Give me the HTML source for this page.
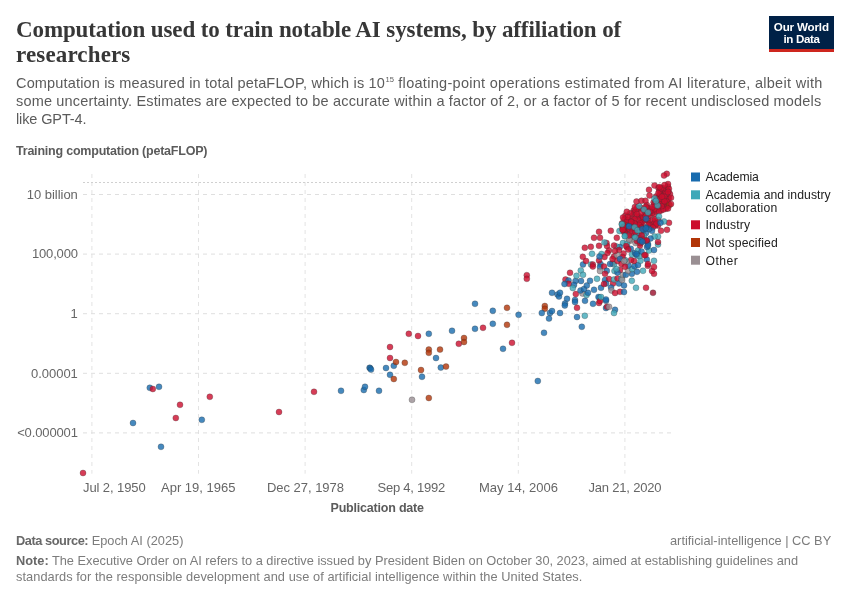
<!DOCTYPE html>
<html><head><meta charset="utf-8"><title>Computation used to train notable AI systems</title>
<style>
html,body{margin:0;padding:0;background:#fff;}
body{width:850px;height:600px;position:relative;overflow:hidden;font-family:"Liberation Sans",sans-serif;}
.t{position:absolute;white-space:nowrap;line-height:1;}
.ti{left:16px;font-family:"Liberation Serif",serif;font-weight:bold;font-size:23px;color:#373737;}
.sub{left:16px;font-size:14.5px;color:#5b5b5b;}
.ax{font-size:13px;color:#666;}
.yl{right:772.2px;text-align:right;}
.lg{left:705.5px;font-size:12.2px;color:#222;}
.ft{font-size:12.8px;color:#7c7c7c;}
.ft b{color:#686868}
#f1 b{letter-spacing:-0.45px}
.bl{font-size:12.5px;font-weight:bold;color:#5b5b5b}
#logo{position:absolute;left:769px;top:16px;width:65px;height:33px;background:#002147;border-bottom:3px solid #ce261e;}
.lo{color:#fff;font-weight:bold;font-size:11.6px;}
/*LS*/#ti1{letter-spacing:-0.111px}#ti2{letter-spacing:0.147px}#s1{letter-spacing:0.166px}#s1b{letter-spacing:0.294px}#s2{letter-spacing:0.166px}#s3{letter-spacing:-0.122px}#yt{letter-spacing:-0.214px}#y1{letter-spacing:-0.036px}#y2{letter-spacing:-0.167px}#y4{letter-spacing:-0.033px}#y5{letter-spacing:-0.129px}#x1{letter-spacing:-0.091px}#x2{letter-spacing:-0.005px}#x3{letter-spacing:-0.031px}#x4{letter-spacing:-0.243px}#x5{letter-spacing:0.020px}#x6{letter-spacing:-0.199px}#xt{letter-spacing:-0.203px}#l1{letter-spacing:-0.129px}#l2{letter-spacing:0.061px}#l3{letter-spacing:0.216px}#l4{letter-spacing:0.192px}#l5{letter-spacing:0.154px}#l6{letter-spacing:0.454px}#f1{letter-spacing:0.002px}#f2{letter-spacing:-0.001px}#f3{letter-spacing:-0.012px}#f4{letter-spacing:0.050px}#lo1{letter-spacing:-0.159px}#lo2{letter-spacing:-0.359px}/*END*/
</style></head><body>
<svg width="850" height="600" viewBox="0 0 850 600" style="position:absolute;left:0;top:0">
<g stroke="#dfdfdf" stroke-width="1" stroke-dasharray="4,4" fill="none">
<line x1="91.9" y1="174" x2="91.9" y2="473.7" stroke="#e3e3e3"/>
<line x1="198.5" y1="174" x2="198.5" y2="473.7" stroke="#e3e3e3"/>
<line x1="305.1" y1="174" x2="305.1" y2="473.7" stroke="#e3e3e3"/>
<line x1="411.7" y1="174" x2="411.7" y2="473.7" stroke="#e3e3e3"/>
<line x1="518.3" y1="174" x2="518.3" y2="473.7" stroke="#e3e3e3"/>
<line x1="624.9" y1="174" x2="624.9" y2="473.7" stroke="#e3e3e3"/>
<line x1="83" y1="194.5" x2="671" y2="194.5"/>
<line x1="83" y1="254.1" x2="671" y2="254.1"/>
<line x1="83" y1="313.7" x2="671" y2="313.7"/>
<line x1="83" y1="373.3" x2="671" y2="373.3"/>
<line x1="83" y1="432.9" x2="671" y2="432.9"/>
</g>
<line x1="83" y1="182.5" x2="671" y2="182.5" stroke="#d0d0d0" stroke-width="1" stroke-dasharray="2,2"/>
<g opacity="1" fill-opacity="0.8" stroke="#333" stroke-width="0.5" stroke-opacity="0.55">
<circle cx="83" cy="473" r="3" fill="#cc0d2d"/>
<circle cx="133" cy="423" r="3" fill="#186bae"/>
<circle cx="149.8" cy="387.8" r="3" fill="#186bae"/>
<circle cx="152.8" cy="389" r="3" fill="#cc0d2d"/>
<circle cx="159" cy="386.8" r="3" fill="#186bae"/>
<circle cx="161" cy="446.8" r="3" fill="#186bae"/>
<circle cx="175.8" cy="418" r="3" fill="#cc0d2d"/>
<circle cx="180" cy="404.8" r="3" fill="#cc0d2d"/>
<circle cx="201.8" cy="419.8" r="3" fill="#186bae"/>
<circle cx="209.8" cy="396.8" r="3" fill="#cc0d2d"/>
<circle cx="279" cy="412" r="3" fill="#cc0d2d"/>
<circle cx="314" cy="391.8" r="3" fill="#cc0d2d"/>
<circle cx="341" cy="390.8" r="3" fill="#186bae"/>
<circle cx="363.8" cy="390" r="3" fill="#186bae"/>
<circle cx="365" cy="386.8" r="3" fill="#186bae"/>
<circle cx="379" cy="390.8" r="3" fill="#186bae"/>
<circle cx="369.6" cy="367.8" r="3" fill="#186bae"/>
<circle cx="370.2" cy="368.2" r="3" fill="#186bae"/>
<circle cx="371" cy="369.6" r="3" fill="#186bae"/>
<circle cx="386" cy="368" r="3" fill="#186bae"/>
<circle cx="393.8" cy="365.8" r="3" fill="#186bae"/>
<circle cx="390" cy="374.8" r="3" fill="#186bae"/>
<circle cx="393.8" cy="379" r="3" fill="#b13507"/>
<circle cx="396" cy="362" r="3" fill="#b13507"/>
<circle cx="404.8" cy="362.8" r="3" fill="#b13507"/>
<circle cx="390" cy="358" r="3" fill="#cc0d2d"/>
<circle cx="390" cy="347" r="3" fill="#cc0d2d"/>
<circle cx="408.8" cy="333.8" r="3" fill="#cc0d2d"/>
<circle cx="418" cy="336" r="3" fill="#cc0d2d"/>
<circle cx="428.8" cy="333.8" r="3" fill="#186bae"/>
<circle cx="428.8" cy="349.6" r="3" fill="#b13507"/>
<circle cx="428.8" cy="352.8" r="3" fill="#b13507"/>
<circle cx="440" cy="349.6" r="3" fill="#b13507"/>
<circle cx="436" cy="358" r="3" fill="#186bae"/>
<circle cx="421" cy="370" r="3" fill="#b13507"/>
<circle cx="422" cy="376.8" r="3" fill="#186bae"/>
<circle cx="440.8" cy="367.6" r="3" fill="#186bae"/>
<circle cx="446" cy="366.6" r="3" fill="#b13507"/>
<circle cx="412" cy="399.8" r="3" fill="#9a8f93"/>
<circle cx="428.8" cy="398" r="3" fill="#b13507"/>
<circle cx="452" cy="330.8" r="3" fill="#186bae"/>
<circle cx="458.8" cy="343.8" r="3" fill="#cc0d2d"/>
<circle cx="464" cy="338" r="3" fill="#b13507"/>
<circle cx="464" cy="342" r="3" fill="#b13507"/>
<circle cx="475" cy="328.8" r="3" fill="#186bae"/>
<circle cx="483" cy="327.8" r="3" fill="#cc0d2d"/>
<circle cx="475" cy="303.8" r="3" fill="#186bae"/>
<circle cx="492.8" cy="310.8" r="3" fill="#186bae"/>
<circle cx="492.8" cy="323.8" r="3" fill="#186bae"/>
<circle cx="507" cy="307.8" r="3" fill="#b13507"/>
<circle cx="507" cy="324.8" r="3" fill="#b13507"/>
<circle cx="503" cy="348.8" r="3" fill="#186bae"/>
<circle cx="512" cy="342.8" r="3" fill="#cc0d2d"/>
<circle cx="518.6" cy="314.8" r="3" fill="#186bae"/>
<circle cx="526.8" cy="275.2" r="3" fill="#cc0d2d"/>
<circle cx="526.8" cy="278.8" r="3" fill="#cc0d2d"/>
<circle cx="544" cy="332.8" r="3" fill="#186bae"/>
<circle cx="537.8" cy="381" r="3" fill="#186bae"/>
<circle cx="639" cy="217.5" r="3" fill="#9a8f93"/>
<circle cx="643" cy="219.5" r="3" fill="#9a8f93"/>
<circle cx="648" cy="218.5" r="3" fill="#9a8f93"/>
<circle cx="629.5" cy="240" r="3" fill="#9a8f93"/>
<circle cx="630" cy="235" r="3" fill="#cc0d2d"/>
<circle cx="654.2" cy="214.2" r="3" fill="#cc0d2d"/>
<circle cx="647.8" cy="220.6" r="3" fill="#cc0d2d"/>
<circle cx="644.7" cy="220.3" r="3" fill="#cc0d2d"/>
<circle cx="640.8" cy="207.8" r="3" fill="#cc0d2d"/>
<circle cx="640.5" cy="224.9" r="3" fill="#cc0d2d"/>
<circle cx="658.7" cy="202.4" r="3" fill="#cc0d2d"/>
<circle cx="627.0" cy="225.3" r="3" fill="#cc0d2d"/>
<circle cx="655.2" cy="206.1" r="3" fill="#cc0d2d"/>
<circle cx="658.4" cy="187.8" r="3" fill="#cc0d2d"/>
<circle cx="637.8" cy="224.9" r="3" fill="#cc0d2d"/>
<circle cx="661.1" cy="210.4" r="3" fill="#cc0d2d"/>
<circle cx="657.3" cy="208.8" r="3" fill="#cc0d2d"/>
<circle cx="661.7" cy="191.4" r="3" fill="#cc0d2d"/>
<circle cx="656.9" cy="198.4" r="3" fill="#cc0d2d"/>
<circle cx="656.1" cy="211.5" r="3" fill="#cc0d2d"/>
<circle cx="666.3" cy="199.7" r="3" fill="#cc0d2d"/>
<circle cx="633.7" cy="210.5" r="3" fill="#cc0d2d"/>
<circle cx="648.1" cy="214.1" r="3" fill="#cc0d2d"/>
<circle cx="663.8" cy="203.5" r="3" fill="#cc0d2d"/>
<circle cx="662.8" cy="201.0" r="3" fill="#cc0d2d"/>
<circle cx="653.6" cy="202.3" r="3" fill="#cc0d2d"/>
<circle cx="649.4" cy="215.6" r="3" fill="#cc0d2d"/>
<circle cx="646.6" cy="211.1" r="3" fill="#cc0d2d"/>
<circle cx="638.6" cy="208.9" r="3" fill="#cc0d2d"/>
<circle cx="667.2" cy="204.8" r="3" fill="#cc0d2d"/>
<circle cx="646.8" cy="205.0" r="3" fill="#cc0d2d"/>
<circle cx="656.1" cy="196.4" r="3" fill="#cc0d2d"/>
<circle cx="651.7" cy="208.9" r="3" fill="#cc0d2d"/>
<circle cx="649.8" cy="223.7" r="3" fill="#cc0d2d"/>
<circle cx="662.8" cy="198.6" r="3" fill="#cc0d2d"/>
<circle cx="641.1" cy="219.3" r="3" fill="#cc0d2d"/>
<circle cx="638" cy="228" r="3" fill="#cc0d2d"/>
<circle cx="639.1" cy="216.2" r="3" fill="#cc0d2d"/>
<circle cx="652.7" cy="220.2" r="3" fill="#cc0d2d"/>
<circle cx="622.1" cy="223.3" r="3" fill="#cc0d2d"/>
<circle cx="643.1" cy="216.9" r="3" fill="#cc0d2d"/>
<circle cx="645.0" cy="214.1" r="3" fill="#cc0d2d"/>
<circle cx="644" cy="239" r="3" fill="#cc0d2d"/>
<circle cx="659.1" cy="211.2" r="3" fill="#cc0d2d"/>
<circle cx="668.3" cy="197.3" r="3" fill="#cc0d2d"/>
<circle cx="659.6" cy="197.2" r="3" fill="#cc0d2d"/>
<circle cx="659.7" cy="199.5" r="3" fill="#cc0d2d"/>
<circle cx="633.7" cy="212.9" r="3" fill="#cc0d2d"/>
<circle cx="642" cy="235" r="3" fill="#cc0d2d"/>
<circle cx="637.0" cy="207.7" r="3" fill="#cc0d2d"/>
<circle cx="662.9" cy="193.8" r="3" fill="#cc0d2d"/>
<circle cx="651.0" cy="225.4" r="3" fill="#cc0d2d"/>
<circle cx="664.1" cy="206.3" r="3" fill="#cc0d2d"/>
<circle cx="641" cy="224" r="3" fill="#cc0d2d"/>
<circle cx="631.2" cy="231.2" r="3" fill="#cc0d2d"/>
<circle cx="652.1" cy="212.9" r="3" fill="#cc0d2d"/>
<circle cx="658.0" cy="225.6" r="3" fill="#cc0d2d"/>
<circle cx="654.1" cy="209.2" r="3" fill="#cc0d2d"/>
<circle cx="631.7" cy="216.1" r="3" fill="#cc0d2d"/>
<circle cx="666.2" cy="189.2" r="3" fill="#cc0d2d"/>
<circle cx="668.7" cy="199.0" r="3" fill="#cc0d2d"/>
<circle cx="654.5" cy="222.8" r="3" fill="#cc0d2d"/>
<circle cx="634" cy="233" r="3" fill="#cc0d2d"/>
<circle cx="631.9" cy="226.1" r="3" fill="#cc0d2d"/>
<circle cx="667.3" cy="206.6" r="3" fill="#cc0d2d"/>
<circle cx="665.8" cy="208.8" r="3" fill="#cc0d2d"/>
<circle cx="670.0" cy="194.0" r="3" fill="#cc0d2d"/>
<circle cx="655.6" cy="201.5" r="3" fill="#cc0d2d"/>
<circle cx="667.5" cy="201.6" r="3" fill="#cc0d2d"/>
<circle cx="645.6" cy="216.3" r="3" fill="#cc0d2d"/>
<circle cx="668.5" cy="191.6" r="3" fill="#cc0d2d"/>
<circle cx="658.3" cy="204.6" r="3" fill="#cc0d2d"/>
<circle cx="635.6" cy="210.2" r="3" fill="#cc0d2d"/>
<circle cx="624.5" cy="229.5" r="3" fill="#cc0d2d"/>
<circle cx="633.2" cy="232.5" r="3" fill="#cc0d2d"/>
<circle cx="660.4" cy="194.3" r="3" fill="#cc0d2d"/>
<circle cx="635.0" cy="222.7" r="3" fill="#cc0d2d"/>
<circle cx="648.3" cy="225.3" r="3" fill="#cc0d2d"/>
<circle cx="664.9" cy="190.9" r="3" fill="#cc0d2d"/>
<circle cx="648.0" cy="208.1" r="3" fill="#cc0d2d"/>
<circle cx="667.9" cy="186.6" r="3" fill="#cc0d2d"/>
<circle cx="660.5" cy="204.5" r="3" fill="#cc0d2d"/>
<circle cx="644.1" cy="210.4" r="3" fill="#cc0d2d"/>
<circle cx="654.3" cy="204.4" r="3" fill="#cc0d2d"/>
<circle cx="640.9" cy="213.0" r="3" fill="#cc0d2d"/>
<circle cx="647" cy="241" r="3" fill="#cc0d2d"/>
<circle cx="631.4" cy="233.7" r="3" fill="#cc0d2d"/>
<circle cx="658.1" cy="219.8" r="3" fill="#cc0d2d"/>
<circle cx="659.3" cy="191.1" r="3" fill="#cc0d2d"/>
<circle cx="625.4" cy="215.4" r="3" fill="#cc0d2d"/>
<circle cx="645.9" cy="206.8" r="3" fill="#cc0d2d"/>
<circle cx="650.6" cy="211.5" r="3" fill="#cc0d2d"/>
<circle cx="665.7" cy="194.1" r="3" fill="#cc0d2d"/>
<circle cx="663.4" cy="209.5" r="3" fill="#cc0d2d"/>
<circle cx="631.7" cy="219.1" r="3" fill="#cc0d2d"/>
<circle cx="625.6" cy="233.8" r="3" fill="#cc0d2d"/>
<circle cx="655.2" cy="225.6" r="3" fill="#cc0d2d"/>
<circle cx="662.9" cy="187.9" r="3" fill="#cc0d2d"/>
<circle cx="658.4" cy="193.1" r="3" fill="#cc0d2d"/>
<circle cx="634.9" cy="207.0" r="3" fill="#cc0d2d"/>
<circle cx="642.2" cy="222.8" r="3" fill="#cc0d2d"/>
<circle cx="628.1" cy="222.1" r="3" fill="#cc0d2d"/>
<circle cx="649.8" cy="211.0" r="3" fill="#cc0d2d"/>
<circle cx="664.2" cy="196.8" r="3" fill="#cc0d2d"/>
<circle cx="661.7" cy="206.1" r="3" fill="#cc0d2d"/>
<circle cx="636.5" cy="216.3" r="3" fill="#cc0d2d"/>
<circle cx="623.1" cy="226.4" r="3" fill="#cc0d2d"/>
<circle cx="668.9" cy="188.8" r="3" fill="#cc0d2d"/>
<circle cx="630.1" cy="213.3" r="3" fill="#cc0d2d"/>
<circle cx="626.3" cy="221.4" r="3" fill="#cc0d2d"/>
<circle cx="624.4" cy="219.2" r="3" fill="#cc0d2d"/>
<circle cx="627.4" cy="219.8" r="3" fill="#cc0d2d"/>
<circle cx="654.8" cy="219.4" r="3" fill="#cc0d2d"/>
<circle cx="637.8" cy="219.7" r="3" fill="#cc0d2d"/>
<circle cx="626.3" cy="230.3" r="3" fill="#cc0d2d"/>
<circle cx="629.7" cy="229.5" r="3" fill="#cc0d2d"/>
<circle cx="622.3" cy="228.4" r="3" fill="#cc0d2d"/>
<circle cx="633.4" cy="225.2" r="3" fill="#cc0d2d"/>
<circle cx="628.1" cy="233.6" r="3" fill="#cc0d2d"/>
<circle cx="636.9" cy="214.1" r="3" fill="#cc0d2d"/>
<circle cx="656.4" cy="223.7" r="3" fill="#cc0d2d"/>
<circle cx="634.5" cy="219.2" r="3" fill="#cc0d2d"/>
<circle cx="664.4" cy="201.2" r="3" fill="#cc0d2d"/>
<circle cx="627.8" cy="216.9" r="3" fill="#cc0d2d"/>
<circle cx="652.7" cy="227.5" r="3" fill="#cc0d2d"/>
<circle cx="623.9" cy="231.9" r="3" fill="#cc0d2d"/>
<circle cx="652.3" cy="207.1" r="3" fill="#cc0d2d"/>
<circle cx="662.0" cy="196.7" r="3" fill="#cc0d2d"/>
<circle cx="661.1" cy="188.2" r="3" fill="#cc0d2d"/>
<circle cx="631.5" cy="221.6" r="3" fill="#cc0d2d"/>
<circle cx="658.5" cy="206.3" r="3" fill="#cc0d2d"/>
<circle cx="631.6" cy="227.8" r="3" fill="#cc0d2d"/>
<circle cx="640.2" cy="223.2" r="3" fill="#cc0d2d"/>
<circle cx="634.9" cy="229.0" r="3" fill="#cc0d2d"/>
<circle cx="635" cy="237" r="3" fill="#cc0d2d"/>
<circle cx="638.9" cy="227.5" r="3" fill="#cc0d2d"/>
<circle cx="629" cy="226" r="3" fill="#186bae"/>
<circle cx="640" cy="236" r="3" fill="#186bae"/>
<circle cx="646" cy="233" r="3" fill="#186bae"/>
<circle cx="646" cy="218.8" r="3" fill="#186bae"/>
<circle cx="657.5" cy="205.5" r="3" fill="#3ea8b8"/>
<circle cx="633" cy="228" r="3" fill="#3ea8b8"/>
<circle cx="628" cy="236" r="3" fill="#3ea8b8"/>
<circle cx="631" cy="233" r="3" fill="#3ea8b8"/>
<circle cx="634" cy="236" r="3" fill="#3ea8b8"/>
<circle cx="644" cy="209.5" r="3" fill="#3ea8b8"/>
<circle cx="644" cy="236" r="3" fill="#3ea8b8"/>
<circle cx="648" cy="212.5" r="3" fill="#3ea8b8"/>
<circle cx="639" cy="206" r="3" fill="#3ea8b8"/>
<circle cx="654.5" cy="198.5" r="3" fill="#3ea8b8"/>
<circle cx="637" cy="231" r="3" fill="#3ea8b8"/>
<circle cx="656" cy="201" r="3" fill="#3ea8b8"/>
<circle cx="544.8" cy="306" r="3" fill="#b13507"/>
<circle cx="544.8" cy="308.8" r="3" fill="#b13507"/>
<circle cx="541.8" cy="313" r="3" fill="#186bae"/>
<circle cx="550" cy="313" r="3" fill="#186bae"/>
<circle cx="552" cy="311" r="3" fill="#186bae"/>
<circle cx="549" cy="318.5" r="3" fill="#186bae"/>
<circle cx="560" cy="313" r="3" fill="#186bae"/>
<circle cx="552" cy="292.8" r="3" fill="#186bae"/>
<circle cx="557.5" cy="294.5" r="3" fill="#186bae"/>
<circle cx="559" cy="296.5" r="3" fill="#186bae"/>
<circle cx="560" cy="292.8" r="3" fill="#186bae"/>
<circle cx="567" cy="298.8" r="3" fill="#186bae"/>
<circle cx="565" cy="303.5" r="3" fill="#186bae"/>
<circle cx="564.8" cy="305.5" r="3" fill="#186bae"/>
<circle cx="575" cy="300" r="3" fill="#186bae"/>
<circle cx="575" cy="302" r="3" fill="#186bae"/>
<circle cx="577" cy="307.8" r="3" fill="#cc0d2d"/>
<circle cx="577" cy="317" r="3" fill="#186bae"/>
<circle cx="584.8" cy="315.8" r="3" fill="#3ea8b8"/>
<circle cx="585" cy="300.8" r="3" fill="#186bae"/>
<circle cx="593" cy="303.8" r="3" fill="#186bae"/>
<circle cx="599.5" cy="297.5" r="3" fill="#3ea8b8"/>
<circle cx="598.5" cy="297" r="3" fill="#186bae"/>
<circle cx="599" cy="303" r="3" fill="#cc0d2d"/>
<circle cx="600" cy="301" r="3" fill="#cc0d2d"/>
<circle cx="606" cy="300.8" r="3" fill="#186bae"/>
<circle cx="606" cy="308" r="3" fill="#186bae"/>
<circle cx="607" cy="306.8" r="3" fill="#cc0d2d"/>
<circle cx="609" cy="306.8" r="3" fill="#9a8f93"/>
<circle cx="615" cy="309.8" r="3" fill="#186bae"/>
<circle cx="614" cy="313" r="3" fill="#3ea8b8"/>
<circle cx="581.8" cy="326.8" r="3" fill="#186bae"/>
<circle cx="575.8" cy="294" r="3" fill="#cc0d2d"/>
<circle cx="582.5" cy="293.5" r="3" fill="#9a8f93"/>
<circle cx="586.5" cy="295" r="3" fill="#3ea8b8"/>
<circle cx="588" cy="292.8" r="3" fill="#186bae"/>
<circle cx="580.5" cy="290.5" r="3" fill="#186bae"/>
<circle cx="584" cy="289" r="3" fill="#186bae"/>
<circle cx="586.8" cy="285.5" r="3" fill="#186bae"/>
<circle cx="594" cy="289.8" r="3" fill="#186bae"/>
<circle cx="601" cy="287.8" r="3" fill="#186bae"/>
<circle cx="590" cy="280.8" r="3" fill="#186bae"/>
<circle cx="597" cy="278.8" r="3" fill="#3ea8b8"/>
<circle cx="581" cy="281" r="3" fill="#186bae"/>
<circle cx="575.5" cy="281" r="3" fill="#186bae"/>
<circle cx="576.5" cy="275.8" r="3" fill="#3ea8b8"/>
<circle cx="580.8" cy="270.5" r="3" fill="#3ea8b8"/>
<circle cx="583" cy="274.8" r="3" fill="#3ea8b8"/>
<circle cx="570" cy="272.8" r="3" fill="#cc0d2d"/>
<circle cx="565.5" cy="279.5" r="3" fill="#cc0d2d"/>
<circle cx="568.5" cy="280.5" r="3" fill="#186bae"/>
<circle cx="568.8" cy="283.8" r="3" fill="#cc0d2d"/>
<circle cx="564.5" cy="284" r="3" fill="#186bae"/>
<circle cx="574" cy="285" r="3" fill="#186bae"/>
<circle cx="572.8" cy="288" r="3" fill="#3ea8b8"/>
<circle cx="583" cy="264.5" r="3" fill="#186bae"/>
<circle cx="586" cy="261" r="3" fill="#cc0d2d"/>
<circle cx="591" cy="264.5" r="3" fill="#3ea8b8"/>
<circle cx="592.8" cy="264.5" r="3" fill="#cc0d2d"/>
<circle cx="592.8" cy="266.5" r="3" fill="#cc0d2d"/>
<circle cx="600.5" cy="264" r="3" fill="#186bae"/>
<circle cx="600" cy="267" r="3" fill="#186bae"/>
<circle cx="604" cy="266.5" r="3" fill="#cc0d2d"/>
<circle cx="600" cy="271" r="3" fill="#9a8f93"/>
<circle cx="606.8" cy="270.8" r="3" fill="#186bae"/>
<circle cx="605" cy="273.8" r="3" fill="#cc0d2d"/>
<circle cx="599" cy="260.5" r="3" fill="#cc0d2d"/>
<circle cx="605" cy="280" r="3" fill="#186bae"/>
<circle cx="609" cy="279" r="3" fill="#cc0d2d"/>
<circle cx="606" cy="283.5" r="3" fill="#186bae"/>
<circle cx="604" cy="284" r="3" fill="#cc0d2d"/>
<circle cx="613" cy="283.5" r="3" fill="#cc0d2d"/>
<circle cx="611" cy="287.5" r="3" fill="#186bae"/>
<circle cx="611.5" cy="290.5" r="3" fill="#9a8f93"/>
<circle cx="615" cy="293" r="3" fill="#cc0d2d"/>
<circle cx="620" cy="291.8" r="3" fill="#cc0d2d"/>
<circle cx="624" cy="292" r="3" fill="#186bae"/>
<circle cx="614" cy="279.5" r="3" fill="#3ea8b8"/>
<circle cx="617.5" cy="278.5" r="3" fill="#cc0d2d"/>
<circle cx="619" cy="283.5" r="3" fill="#186bae"/>
<circle cx="621.5" cy="278.5" r="3" fill="#3ea8b8"/>
<circle cx="623" cy="275" r="3" fill="#9a8f93"/>
<circle cx="622" cy="280" r="3" fill="#9a8f93"/>
<circle cx="624" cy="285.5" r="3" fill="#186bae"/>
<circle cx="620" cy="270" r="3" fill="#cc0d2d"/>
<circle cx="614.5" cy="271" r="3" fill="#3ea8b8"/>
<circle cx="617.5" cy="272.5" r="3" fill="#186bae"/>
<circle cx="612.5" cy="263.5" r="3" fill="#cc0d2d"/>
<circle cx="614" cy="264.5" r="3" fill="#3ea8b8"/>
<circle cx="610" cy="264" r="3" fill="#186bae"/>
<circle cx="601" cy="297" r="3" fill="#3ea8b8"/>
<circle cx="606" cy="299.5" r="3" fill="#186bae"/>
<circle cx="653" cy="292.8" r="3" fill="#9b0e2a"/>
<circle cx="646" cy="287.8" r="3" fill="#cc0d2d"/>
<circle cx="636" cy="287.8" r="3" fill="#3ea8b8"/>
<circle cx="631.8" cy="280.8" r="3" fill="#3ea8b8"/>
<circle cx="654" cy="273.8" r="3" fill="#cc0d2d"/>
<circle cx="652" cy="271" r="3" fill="#cc0d2d"/>
<circle cx="654" cy="267" r="3" fill="#cc0d2d"/>
<circle cx="647.8" cy="265.8" r="3" fill="#cc0d2d"/>
<circle cx="654" cy="260.8" r="3" fill="#3ea8b8"/>
<circle cx="643" cy="270.8" r="3" fill="#3ea8b8"/>
<circle cx="637" cy="271.8" r="3" fill="#186bae"/>
<circle cx="631.8" cy="273.8" r="3" fill="#186bae"/>
<circle cx="625.8" cy="274.8" r="3" fill="#186bae"/>
<circle cx="628.2" cy="270.8" r="3" fill="#9a8f93"/>
<circle cx="632" cy="269" r="3" fill="#3ea8b8"/>
<circle cx="634.5" cy="266.2" r="3" fill="#186bae"/>
<circle cx="638" cy="265" r="3" fill="#186bae"/>
<circle cx="628.5" cy="265.5" r="3" fill="#186bae"/>
<circle cx="640.5" cy="260.8" r="3" fill="#3ea8b8"/>
<circle cx="646.8" cy="259.5" r="3" fill="#186bae"/>
<circle cx="645.5" cy="255" r="3" fill="#cc0d2d"/>
<circle cx="634" cy="261" r="3" fill="#cc0d2d"/>
<circle cx="631" cy="260" r="3" fill="#cc0d2d"/>
<circle cx="626.5" cy="261.8" r="3" fill="#9a8f93"/>
<circle cx="625" cy="260" r="3" fill="#3ea8b8"/>
<circle cx="623.5" cy="253.5" r="3" fill="#cc0d2d"/>
<circle cx="622.5" cy="257" r="3" fill="#cc0d2d"/>
<circle cx="626.8" cy="247" r="3" fill="#cc0d2d"/>
<circle cx="630.8" cy="248.8" r="3" fill="#186bae"/>
<circle cx="632" cy="254.5" r="3" fill="#3ea8b8"/>
<circle cx="635" cy="253" r="3" fill="#186bae"/>
<circle cx="637" cy="255.5" r="3" fill="#186bae"/>
<circle cx="639.5" cy="256" r="3" fill="#3ea8b8"/>
<circle cx="638" cy="250.5" r="3" fill="#3ea8b8"/>
<circle cx="641.5" cy="251.5" r="3" fill="#186bae"/>
<circle cx="649" cy="250.5" r="3" fill="#3ea8b8"/>
<circle cx="654" cy="250" r="3" fill="#186bae"/>
<circle cx="648" cy="244" r="3" fill="#186bae"/>
<circle cx="647" cy="247" r="3" fill="#186bae"/>
<circle cx="658" cy="244.5" r="3" fill="#3ea8b8"/>
<circle cx="658" cy="242" r="3" fill="#cc0d2d"/>
<circle cx="640" cy="245.5" r="3" fill="#cc0d2d"/>
<circle cx="638" cy="242" r="3" fill="#cc0d2d"/>
<circle cx="642" cy="241.5" r="3" fill="#186bae"/>
<circle cx="635.5" cy="243" r="3" fill="#9a8f93"/>
<circle cx="630" cy="240.8" r="3" fill="#9a8f93"/>
<circle cx="623" cy="243" r="3" fill="#3ea8b8"/>
<circle cx="619.8" cy="247" r="3" fill="#186bae"/>
<circle cx="616.5" cy="246.5" r="3" fill="#3ea8b8"/>
<circle cx="619" cy="250" r="3" fill="#cc0d2d"/>
<circle cx="614" cy="245.5" r="3" fill="#cc0d2d"/>
<circle cx="606.5" cy="243" r="3" fill="#cc0d2d"/>
<circle cx="607" cy="246" r="3" fill="#cc0d2d"/>
<circle cx="609" cy="250.5" r="3" fill="#cc0d2d"/>
<circle cx="607.5" cy="253" r="3" fill="#cc0d2d"/>
<circle cx="601.5" cy="254" r="3" fill="#3ea8b8"/>
<circle cx="604.5" cy="257" r="3" fill="#cc0d2d"/>
<circle cx="614" cy="256.5" r="3" fill="#cc0d2d"/>
<circle cx="612.5" cy="259" r="3" fill="#cc0d2d"/>
<circle cx="617" cy="255" r="3" fill="#9a8f93"/>
<circle cx="617.5" cy="261" r="3" fill="#cc0d2d"/>
<circle cx="620" cy="259" r="3" fill="#186bae"/>
<circle cx="621.5" cy="264" r="3" fill="#cc0d2d"/>
<circle cx="616.5" cy="269" r="3" fill="#3ea8b8"/>
<circle cx="625" cy="266.8" r="3" fill="#cc0d2d"/>
<circle cx="599" cy="231.8" r="3" fill="#cc0d2d"/>
<circle cx="610.8" cy="230.8" r="3" fill="#cc0d2d"/>
<circle cx="594" cy="237.8" r="3" fill="#cc0d2d"/>
<circle cx="600" cy="237.8" r="3" fill="#cc0d2d"/>
<circle cx="616.8" cy="237.8" r="3" fill="#cc0d2d"/>
<circle cx="584.8" cy="247.8" r="3" fill="#cc0d2d"/>
<circle cx="590.8" cy="246.8" r="3" fill="#cc0d2d"/>
<circle cx="599" cy="245.8" r="3" fill="#cc0d2d"/>
<circle cx="604.5" cy="242.5" r="3" fill="#3ea8b8"/>
<circle cx="592" cy="253.8" r="3" fill="#3ea8b8"/>
<circle cx="582.8" cy="256.8" r="3" fill="#cc0d2d"/>
<circle cx="599.5" cy="256.5" r="3" fill="#186bae"/>
<circle cx="615" cy="251" r="3" fill="#cc0d2d"/>
<circle cx="619.5" cy="231" r="3" fill="#3ea8b8"/>
<circle cx="622" cy="224.5" r="3" fill="#3ea8b8"/>
<circle cx="624.5" cy="226.5" r="3" fill="#cc0d2d"/>
<circle cx="623" cy="230" r="3" fill="#cc0d2d"/>
<circle cx="625" cy="236" r="3" fill="#3ea8b8"/>
<circle cx="627" cy="243.5" r="3" fill="#3ea8b8"/>
<circle cx="629" cy="239.5" r="3" fill="#9a8f93"/>
<circle cx="629" cy="226.5" r="3" fill="#186bae"/>
<circle cx="624" cy="261" r="3" fill="#9a8f93"/>
<circle cx="669" cy="222.8" r="3" fill="#cc0d2d"/>
<circle cx="664" cy="221.5" r="3" fill="#3ea8b8"/>
<circle cx="660.5" cy="222.8" r="3" fill="#186bae"/>
<circle cx="659" cy="216.5" r="3" fill="#3ea8b8"/>
<circle cx="667" cy="229.8" r="3" fill="#cc0d2d"/>
<circle cx="661" cy="230.8" r="3" fill="#cc0d2d"/>
<circle cx="652" cy="230.8" r="3" fill="#186bae"/>
<circle cx="649" cy="229" r="3" fill="#186bae"/>
<circle cx="646" cy="227.5" r="3" fill="#186bae"/>
<circle cx="643.5" cy="230" r="3" fill="#186bae"/>
<circle cx="658" cy="236.5" r="3" fill="#3ea8b8"/>
<circle cx="654.5" cy="236.5" r="3" fill="#3ea8b8"/>
<circle cx="650.5" cy="238.5" r="3" fill="#186bae"/>
<circle cx="648" cy="245.5" r="3" fill="#186bae"/>
<circle cx="648" cy="264" r="3" fill="#cc0d2d"/>
<circle cx="639" cy="240" r="3" fill="#186bae"/>
<circle cx="636.5" cy="254" r="3" fill="#186bae"/>
<circle cx="666.8" cy="173.8" r="3" fill="#cc0d2d"/>
<circle cx="664" cy="175.5" r="3" fill="#cc0d2d"/>
<circle cx="668" cy="184" r="3" fill="#cc0d2d"/>
<circle cx="664.5" cy="185" r="3" fill="#cc0d2d"/>
<circle cx="654.5" cy="185.5" r="3" fill="#cc0d2d"/>
<circle cx="649" cy="189.8" r="3" fill="#cc0d2d"/>
<circle cx="659.5" cy="187" r="3" fill="#cc0d2d"/>
<circle cx="668" cy="192" r="3" fill="#cc0d2d"/>
<circle cx="649.5" cy="195.5" r="3" fill="#cc0d2d"/>
<circle cx="671" cy="197.8" r="3" fill="#cc0d2d"/>
<circle cx="669.5" cy="205" r="3" fill="#b13507"/>
<circle cx="671" cy="204" r="3" fill="#cc0d2d"/>
<circle cx="668" cy="208.5" r="3" fill="#cc0d2d"/>
<circle cx="636.5" cy="201.5" r="3" fill="#cc0d2d"/>
<circle cx="641.5" cy="200.8" r="3" fill="#cc0d2d"/>
<circle cx="645.5" cy="200.8" r="3" fill="#cc0d2d"/>
<circle cx="626.8" cy="211.8" r="3" fill="#cc0d2d"/>
<circle cx="623" cy="217.5" r="3" fill="#cc0d2d"/>
<circle cx="623.3" cy="227" r="3" fill="#cc0d2d"/>
<circle cx="622.6" cy="229.8" r="3" fill="#cc0d2d"/>
<circle cx="629.7" cy="229.1" r="3" fill="#cc0d2d"/>
<circle cx="631.8" cy="232.6" r="3" fill="#cc0d2d"/>
<circle cx="629" cy="235.5" r="3" fill="#cc0d2d"/>
<circle cx="635.3" cy="232" r="3" fill="#cc0d2d"/>
<circle cx="636" cy="227.7" r="3" fill="#cc0d2d"/>
<circle cx="638.9" cy="224.9" r="3" fill="#cc0d2d"/>
<circle cx="641.7" cy="227.7" r="3" fill="#cc0d2d"/>
<circle cx="634.6" cy="223.5" r="3" fill="#cc0d2d"/>
<circle cx="631.1" cy="222" r="3" fill="#cc0d2d"/>
<circle cx="638.9" cy="238.3" r="3" fill="#cc0d2d"/>
<circle cx="636.8" cy="241.1" r="3" fill="#cc0d2d"/>
<circle cx="640.3" cy="243.2" r="3" fill="#cc0d2d"/>
<circle cx="641.7" cy="235.5" r="3" fill="#cc0d2d"/>
<circle cx="643.1" cy="239.7" r="3" fill="#cc0d2d"/>
<circle cx="646.6" cy="240.4" r="3" fill="#cc0d2d"/>
<circle cx="626.2" cy="246" r="3" fill="#cc0d2d"/>
<circle cx="628.3" cy="249.6" r="3" fill="#cc0d2d"/>
<circle cx="644.5" cy="255.2" r="3" fill="#cc0d2d"/>
<circle cx="629" cy="226.3" r="3" fill="#186bae"/>
<circle cx="634.6" cy="227.3" r="3" fill="#3ea8b8"/>
<circle cx="637.5" cy="230.2" r="3" fill="#3ea8b8"/>
<circle cx="635.3" cy="237.6" r="3" fill="#3ea8b8"/>
<circle cx="640.3" cy="240.4" r="3" fill="#186bae"/>
<circle cx="642.4" cy="241.8" r="3" fill="#186bae"/>
<circle cx="642.4" cy="229.1" r="3" fill="#186bae"/>
<circle cx="645.9" cy="228.4" r="3" fill="#186bae"/>
<circle cx="624.8" cy="236.2" r="3" fill="#3ea8b8"/>
<circle cx="621.9" cy="224.2" r="3" fill="#3ea8b8"/>
</g>
<rect x="691" y="172.5" width="9" height="9" fill="#186bae"/>
<rect x="691" y="190.3" width="9" height="9" fill="#3ea8b8"/>
<rect x="691" y="220.3" width="9" height="9" fill="#cc0d2d"/>
<rect x="691" y="238" width="9" height="9" fill="#b13507"/>
<rect x="691" y="255.7" width="9" height="9" fill="#9a8f93"/>
</svg>
<div id="txt" style="position:absolute;left:0;top:0;width:850px;height:600px;will-change:transform;transform:translateZ(0)">
<div class="t ti" id="ti1" style="top:17.7px">Computation used to train notable AI systems, by affiliation of</div>
<div class="t ti" id="ti2" style="top:42.8px">researchers</div>
<div class="t sub" id="s1" style="top:75.7px">Computation is measured in total petaFLOP, which is 10</div>
<div class="t sub" id="s1s" style="top:76px;left:385.6px;font-size:7.6px">15</div>
<div class="t sub" id="s1b" style="top:75.7px;left:398.3px">floating-point operations estimated from AI literature, albeit with</div>
<div class="t sub" id="s2" style="top:93.7px">some uncertainty. Estimates are expected to be accurate within a factor of 2, or a factor of 5 for recent undisclosed models</div>
<div class="t sub" id="s3" style="top:111.7px">like GPT-4.</div>
<div class="t bl" id="yt" style="left:16px;top:145px">Training computation (petaFLOP)</div>
<div class="t ax yl" id="y1" style="top:187.6px">10 billion</div>
<div class="t ax yl" id="y2" style="top:247.3px">100,000</div>
<div class="t ax yl" id="y3" style="top:307px">1</div>
<div class="t ax yl" id="y4" style="top:366.7px">0.00001</div>
<div class="t ax yl" id="y5" style="top:426.4px">&lt;0.000001</div>
<div class="t ax" id="x1" style="left:83px;top:480.5px">Jul 2, 1950</div>
<div class="t ax" id="x2" style="left:161px;top:480.5px">Apr 19, 1965</div>
<div class="t ax" id="x3" style="left:267px;top:480.5px">Dec 27, 1978</div>
<div class="t ax" id="x4" style="left:377.6px;top:480.5px">Sep 4, 1992</div>
<div class="t ax" id="x5" style="left:479px;top:480.5px">May 14, 2006</div>
<div class="t ax" id="x6" style="left:588.5px;top:480.5px">Jan 21, 2020</div>
<div class="t bl" id="xt" style="left:330.5px;top:502.2px">Publication date</div>
<div class="t lg" id="l1" style="top:171.3px">Academia</div>
<div class="t lg" id="l2" style="top:189.2px">Academia and industry</div>
<div class="t lg" id="l3" style="top:202px">collaboration</div>
<div class="t lg" id="l4" style="top:219.2px">Industry</div>
<div class="t lg" id="l5" style="top:236.8px">Not specified</div>
<div class="t lg" id="l6" style="top:254.5px">Other</div>
<div class="t ft" id="f1" style="left:16px;top:534.5px"><b>Data source:</b> Epoch AI (2025)</div>
<div class="t ft" id="f2" style="left:670px;top:534.5px">artificial-intelligence | CC BY</div>
<div class="t ft" id="f3" style="left:16px;top:554.5px"><b>Note:</b> The Executive Order on AI refers to a directive issued by President Biden on October 30, 2023, aimed at establishing guidelines and</div>
<div class="t ft" id="f4" style="left:16px;top:570.5px">standards for the responsible development and use of artificial intelligence within the United States.</div>
<div id="logo"></div>
<div class="t lo" id="lo1" style="left:773.8px;top:20.6px">Our World</div>
<div class="t lo" id="lo2" style="left:783.5px;top:32.6px">in Data</div>
</div>
</body></html>
